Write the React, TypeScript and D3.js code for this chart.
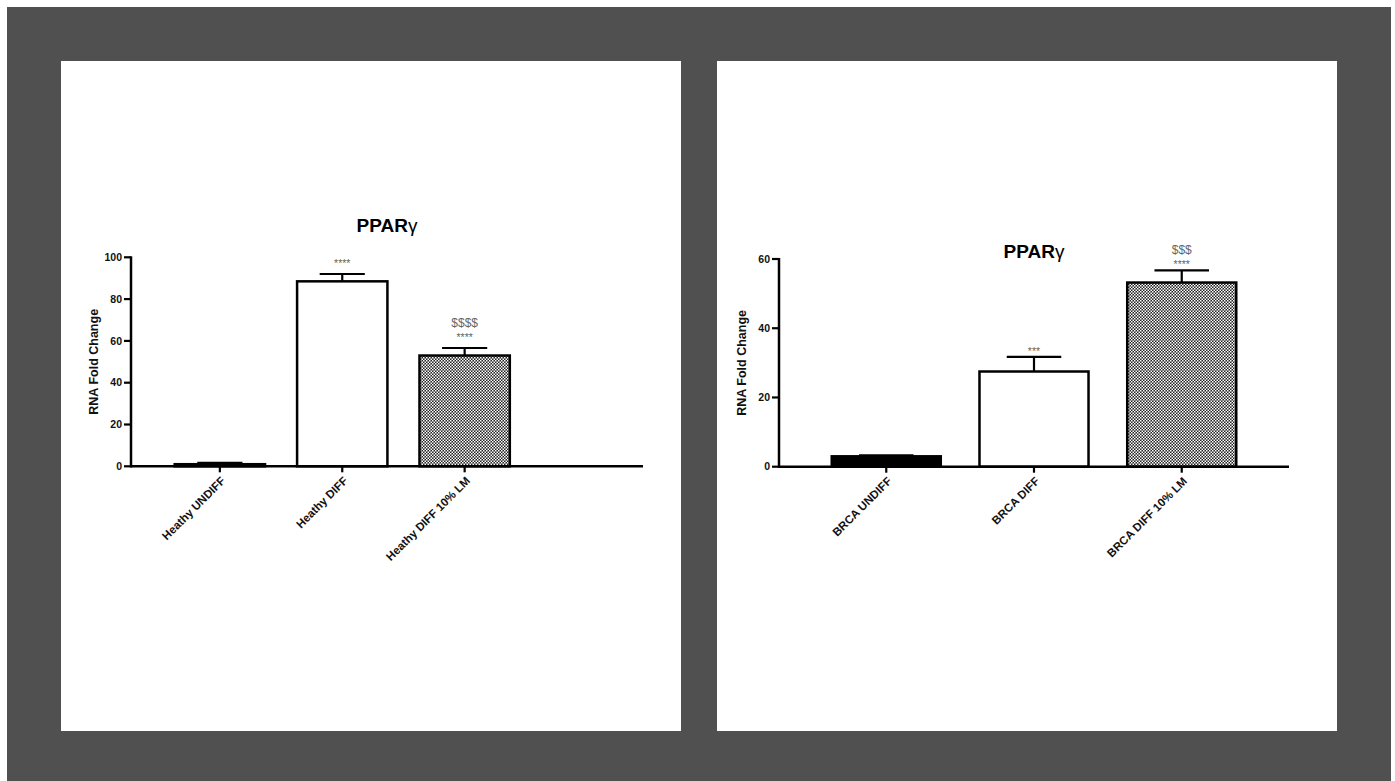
import React from "react";
import * as d3 from "d3";

const leftCategories = ["Heathy UNDIFF", "Heathy DIFF", "Heathy DIFF 10% LM"];
const leftValues = [1.0, 88.5, 53.0];
const leftErrors = [0.6, 3.5, 3.6];
const leftStars = ["", "****", "****"];
const leftDollars = ["", "", "$$$$"];
const leftTicks = [0, 20, 40, 60, 80, 100];

const rightCategories = ["BRCA UNDIFF", "BRCA DIFF", "BRCA DIFF 10% LM"];
const rightValues = [3.0, 27.5, 53.2];
const rightErrors = [0.3, 4.2, 3.5];
const rightStars = ["", "***", "****"];
const rightDollars = ["", "", "$$$"];
const rightTicks = [0, 20, 40, 60];

const fills = ["#000", "#fff", "url(#checker)"];

const FONT = "'Liberation Sans', Arial, Helvetica, sans-serif";

type PanelProps = {
  cats: string[];
  vals: number[];
  errs: number[];
  stars: string[];
  dollars: string[];
  ticks: number[];
  yMax: number;
  x0: number;
  xBandEnd: number;
  xAxisEnd: number;
  y0: number;
  yTop: number;
  titleY: number;
  starGap: number;
};

function Panel(p: PanelProps) {
  const x = d3
    .scaleBand<string>()
    .domain(p.cats)
    .range([p.x0, p.xBandEnd])
    .paddingInner(0.262)
    .paddingOuter(0.357);
  const y = d3.scaleLinear().domain([0, p.yMax]).range([p.y0, p.yTop]);
  const bw = x.bandwidth();
  const titleX = (p.x0 + p.xAxisEnd) / 2;
  const midY = (p.y0 + p.yTop) / 2;
  return (
    <g fontFamily={FONT}>
      <text x={titleX} y={p.titleY} textAnchor="middle" fontSize={19} fontWeight="bold" fill="#000">
        PPAR<tspan fontWeight="normal">γ</tspan>
      </text>
      {p.cats.map((c, i) => {
        const bx = x(c)!;
        const top = y(p.vals[i]);
        const errTop = y(p.vals[i] + p.errs[i]);
        const cx = bx + bw / 2;
        return (
          <g key={c}>
            <line x1={cx} x2={cx} y1={top} y2={errTop} stroke="#000" strokeWidth={2.2} />
            <line x1={cx - bw / 4} x2={cx + bw / 4} y1={errTop} y2={errTop} stroke="#000" strokeWidth={2.2} />
            <rect x={bx} y={top} width={bw} height={p.y0 - top} fill={fills[i]} stroke="#000" strokeWidth={2.5} />
            {p.stars[i] && (
              <text x={cx} y={errTop - p.starGap + 6} textAnchor="middle" fontSize={10.5} fill="#666">
                {p.stars[i]}
              </text>
            )}
            {p.dollars[i] && (
              <text x={cx} y={errTop - p.starGap - 13 + 4.5} textAnchor="middle" fontSize={12} fill="#666">
                {p.dollars[i]}
              </text>
            )}
            <line x1={cx} x2={cx} y1={p.y0} y2={p.y0 + 6} stroke="#000" strokeWidth={2.2} />
            <text
              transform={`translate(${cx + 4},${p.y0 + 13}) rotate(-45)`}
              textAnchor="end"
              dominantBaseline="middle"
              fontSize={11.5}
              fontWeight="bold"
              fill="#111"
            >
              {c}
            </text>
          </g>
        );
      })}
      <line x1={p.x0} x2={p.xAxisEnd} y1={p.y0} y2={p.y0} stroke="#000" strokeWidth={2.5} />
      <line x1={p.x0} x2={p.x0} y1={p.y0 + 1.2} y2={p.yTop - 1} stroke="#000" strokeWidth={2.5} />
      {p.ticks.map((t) => (
        <g key={t}>
          <line x1={p.x0 - 7} x2={p.x0} y1={y(t)} y2={y(t)} stroke="#000" strokeWidth={2.2} />
          <text x={p.x0 - 9} y={y(t)} dy="0.35em" textAnchor="end" fontSize={10.5} fontWeight="bold" fill="#111">
            {t}
          </text>
        </g>
      ))}
      <text
        transform={`translate(${p.x0 - 36},${midY}) rotate(-90)`}
        textAnchor="middle"
        dominantBaseline="middle"
        fontSize={12.5}
        fontWeight="bold"
        fill="#111"
      >
        RNA Fold Change
      </text>
    </g>
  );
}

export default function App() {
  return (
    <svg
      width={1395}
      height={781}
      style={{ position: "absolute", left: 0, top: 0, display: "block" }}
    >
      <defs>
        <pattern id="checker" width={3} height={3} patternUnits="userSpaceOnUse">
          <rect x={0} y={0} width={3} height={3} fill="#222" />
          <rect x={0} y={0} width={1.5} height={1.5} fill="#fff" />
          <rect x={1.5} y={1.5} width={1.5} height={1.5} fill="#fff" />
        </pattern>
      </defs>
      <rect x={0} y={0} width={1395} height={781} fill="#fff" />
      <rect x={7} y={7} width={1384} height={774} fill="#505050" />
      <rect x={61} y={61} width={620} height={670} fill="#fff" />
      <rect x={717} y={61} width={620} height={670} fill="#fff" />
      <Panel
        cats={leftCategories}
        vals={leftValues}
        errs={leftErrors}
        stars={leftStars}
        dollars={leftDollars}
        ticks={leftTicks}
        yMax={100}
        x0={131}
        xBandEnd={553.5}
        xAxisEnd={643}
        y0={466.3}
        yTop={257.3}
        titleY={232}
        starGap={13}
      />
      <Panel
        cats={rightCategories}
        vals={rightValues}
        errs={rightErrors}
        stars={rightStars}
        dollars={rightDollars}
        ticks={rightTicks}
        yMax={60}
        x0={779}
        xBandEnd={1289}
        xAxisEnd={1289}
        y0={466.7}
        yTop={259}
        titleY={258}
        starGap={8}
      />
    </svg>
  );
}
